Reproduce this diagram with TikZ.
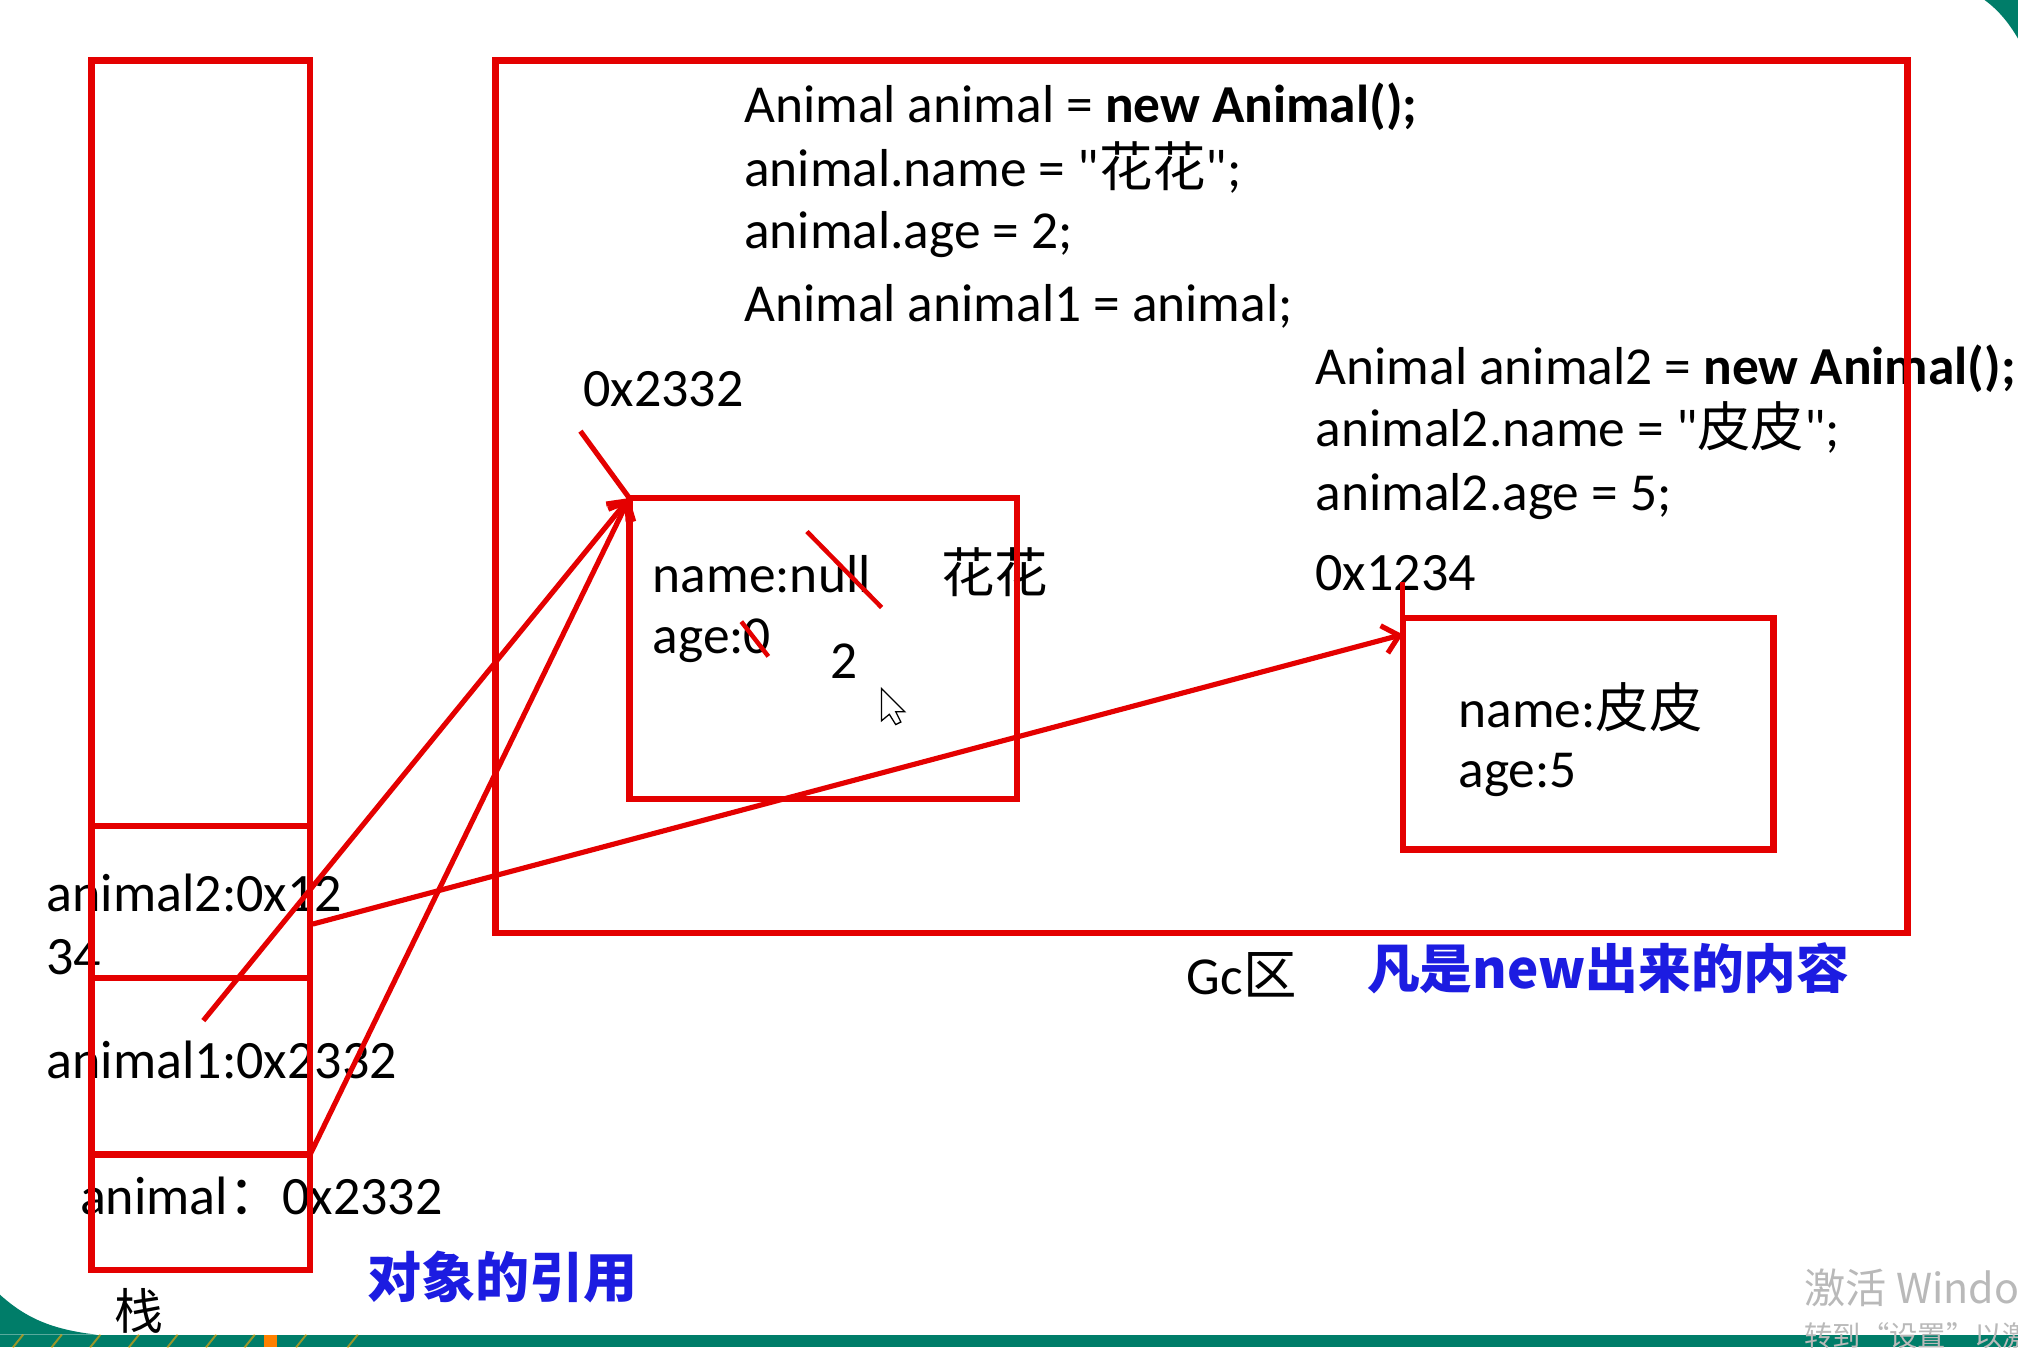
\documentclass[tikz,border=0pt]{standalone}
\usepackage{fontspec}
\setmainfont{Carlito}[Ligatures=TeXOff]
\newfontfamily\cjk{Noto Sans CJK SC}
\usetikzlibrary{arrows.meta}
\definecolor{boxred}{RGB}{228,0,0}
\definecolor{noteblue}{RGB}{28,28,225}
\definecolor{tealband}{RGB}{0,125,105}
\definecolor{wmgray}{RGB}{185,185,185}
\newcommand\zh[1]{{\cjk #1}}
\begin{document}
\begin{tikzpicture}[x=1pt,y=-1pt,
  redbox/.style={draw=boxred, line width=5pt, rectangle, inner sep=0pt, outer sep=0pt, anchor=north west},
  txt/.style={anchor=base west, inner sep=0pt, font=\fontsize{41.5}{48}\selectfont},
  stk/.style={anchor=base west, inner sep=0pt, font=\fontsize{42}{48}\selectfont},
  hex/.style={anchor=base west, inner sep=0pt, font=\fontsize{42}{48}\selectfont},
  note/.style={anchor=base west, inner sep=0pt, text=noteblue, font=\cjk\bfseries\fontsize{41}{48}\selectfont},
  ref/.style={draw=boxred, line width=4pt, -{Straight Barb[length=12pt,width=22pt,line width=4pt]}},
  plainline/.style={draw=boxred, line width=4pt},
  strike/.style={draw=boxred, line width=3.5pt}]
\clip (0,0) rectangle (1568,1047);
\fill[white] (0,0) rectangle (1568,1047);
% decoration of slide
\fill[tealband] (0,1037) rectangle (1568,1047);
\fill[tealband] (0,1006) .. controls (20,1024) and (40,1033) .. (75,1037) -- (0,1037) -- cycle;
\fill[tealband] (1542,0) .. controls (1553,8) and (1561,18) .. (1568,30) -- (1568,0) -- cycle;
\foreach \xx in {10,40,70,100,130,160,190,230,270}
  \draw[orange!70!yellow, line width=1.5pt, opacity=0.6] (\xx,1047) -- (\xx+8,1037);
\fill[orange] (205,1037) rectangle (215,1047);

% code texts
\node[txt] (c1) at (578,95) {Animal animal = \textbf{new Animal();}};
\node[txt] (c2) at (578,145) {animal.name = "\zh{花花}";};
\node[txt] (c3) at (578,193) {animal.age = 2;};
\node[txt] (c4) at (578,250) {Animal animal1 = animal;};
\node[txt] (d1) at (1022,299) {Animal animal2 = \textbf{new Animal();}};
\node[txt] (d2) at (1022,347) {animal2.name = "\zh{皮皮}";};
\node[txt] (d3) at (1022,397) {animal2.age = 5;};
\node[hex] (addr1) at (453,316) {0x2332};
\node[hex] (addr2) at (1022,459) {0x1234};

% object 1 contents
\node[txt] (o1n) at (507,460) {name:null};
\node[txt] (o1h) at (731,460) {\zh{花花}};
\node[txt] (o1a) at (507,508) {age:0};
\node[txt] (o1two) at (645,527) {2};
% object 2 contents
\node[txt] (o2n) at (1133,565) {name:\zh{皮皮}};
\node[txt] (o2a) at (1133,612) {age:5};

% stack labels
\node[stk] (s2a) at (36,708) {animal2:0x12};
\node[stk] (s2b) at (36,757) {34};
\node[stk] (s1) at (36,838) {animal1:0x2332};
\node[stk] (s0) at (62,944) {animal\zh{：}0x2332};
\node[anchor=base west, inner sep=0pt, font=\cjk\fontsize{38}{44}\selectfont] (zhan) at (89,1033) {栈};
\node[note, font=\cjk\bfseries\fontsize{42}{48}\selectfont] (refnote) at (285,1008) {对象的引用};
\node[txt] (gclab) at (922,773) {Gc\zh{区}};
\node[note] (newnote) at (1062,768) {凡是new出来的内容};

% watermark (cut by the right edge, as in the screenshot)
\node[anchor=base west, inner sep=0pt, text=wmgray, font=\cjk\fontsize{32}{36}\selectfont] (wm1) at (1402,1013) {激活 Windo};
\node[anchor=base west, inner sep=0pt, text=wmgray, font=\cjk\fontsize{22}{26}\selectfont] (wm2) at (1402,1046) {转到“设置”以激};

% boxes
\node[redbox, minimum width=170pt, minimum height=595pt] (stacktop) at (71,47) {};
\node[redbox, minimum width=170pt, minimum height=118pt] (cella2) at (71,642) {};
\node[redbox, minimum width=170pt, minimum height=137pt] (cella1) at (71,760) {};
\node[redbox, minimum width=170pt, minimum height=90pt] (cella) at (71,897) {};
\node[redbox, minimum width=1097pt, minimum height=678pt] (gc) at (385,47) {};
\node[redbox, minimum width=301pt, minimum height=234pt] (obj1) at (489,387) {};
\node[redbox, minimum width=288pt, minimum height=180pt] (obj2) at (1090,480) {};

% strike-outs
\draw[strike] (627,413) -- (685,472);
\draw[strike] (576,483) -- (597,510);

% references
\coordinate (a1start) at (158,793);
\coordinate (a2start) at (243,718);
\coordinate (l1) at (451,335);
\draw[ref] (a1start) -- (obj1.north west);
\draw[ref] (cella.north east) -- (obj1.north west);
\draw[plainline] (l1) -- (obj1.north west);
\draw[ref] (a2start) -- ([yshift=-13pt]obj2.north west);
\draw[plainline] ([yshift=28pt]obj2.north west) coordinate (l2) -- (obj2.north west);

% mouse pointer
\draw[black, line width=1pt, fill=white] (685,535) -- (685,560) -- (691,555) -- (696,563) -- (700,561) -- (696,553) -- (703,553) -- cycle;
\end{tikzpicture}
\end{document}
